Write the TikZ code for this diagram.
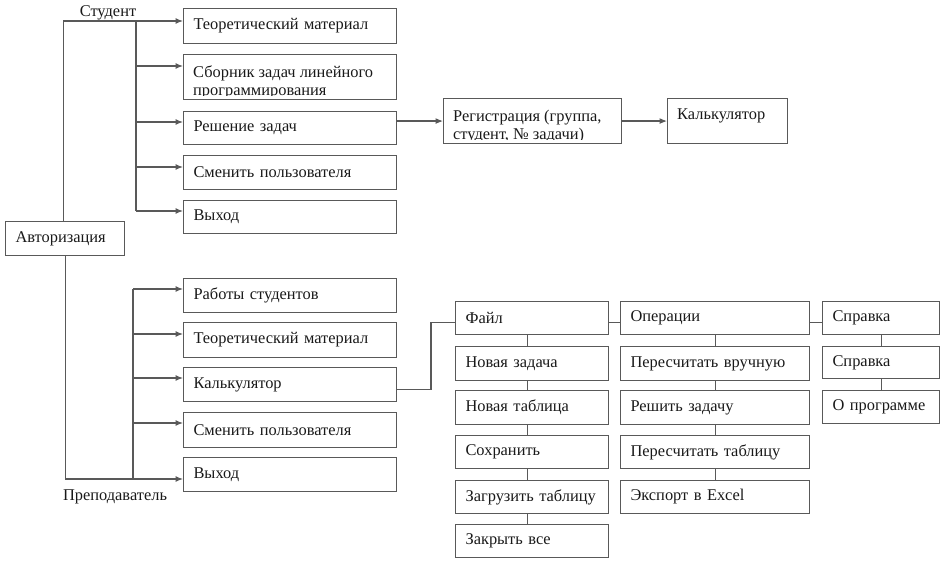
\documentclass[tikz,border=0pt]{standalone}
\usepackage{fontspec}
\setmainfont{Liberation Serif}
\usetikzlibrary{arrows.meta}
\newcommand{\menubox}[6]{%
  \pgfmathsetmacro\bw{#4-#2}\pgfmathsetmacro\bh{#5-#3}\pgfmathsetmacro\tw{#4-#2-20}%
  \node[box, minimum width=\bw pt, minimum height=\bh pt, text width=\tw pt] (#1) at (#2,#3) {#6};}
\begin{document}
\begin{tikzpicture}[x=1pt,y=-1pt,
  box/.style={draw=black!65, line width=1.1pt, rectangle, anchor=north west, inner xsep=10pt, inner ysep=0pt, align=left, font=\fontsize{16.4}{18.5}\selectfont, text=black!90},
  conn/.style={draw=black!65, line width=1.1pt},
  arr/.style={conn, -{Latex[length=7.5pt,width=6pt]}},
  lbl/.style={font=\fontsize{16.4}{18.5}\selectfont, text=black!90, inner sep=0pt}]
\useasboundingbox (0,0) rectangle (945,561);
% student branch
\menubox{S1}{183}{8}{396}{43}{Теоретический материал}
\menubox{S2}{183}{54}{396}{99}{}
\menubox{S3}{183}{111}{396}{144}{Решение задач}
\menubox{S4}{183}{155}{396}{189}{Сменить пользователя}
\menubox{S5}{183}{200}{396}{233}{Выход}
\menubox{A}{5}{221}{124}{255}{Авторизация}
\menubox{R}{443}{98}{621}{143}{}
\menubox{K}{667}{98}{787}{143}{}
\node[lbl, anchor=north west] (Kt) at ([xshift=10pt,yshift=-8pt]K.north west) {\strut Калькулятор};
\begin{scope}
  \clip ([yshift=-1pt]S2.north west) rectangle ([yshift=5pt]S2.south east);
  \node[lbl, anchor=north west, align=left] (S2t) at ([xshift=10pt,yshift=-10pt]S2.north west) {\strut Сборник задач линейного\\\strut программирования};
\end{scope}
\begin{scope}
  \clip ([yshift=-1pt]R.north west) rectangle ([yshift=5pt]R.south east);
  \node[lbl, anchor=north west, align=left] (Rt) at ([xshift=10pt,yshift=-10pt]R.north west) {\strut Регистрация (группа,\\\strut студент, № задачи)};
\end{scope}
% teacher branch
\menubox{T1}{183}{278}{396}{312}{Работы студентов}
\menubox{T2}{183}{322}{396}{357}{Теоретический материал}
\menubox{T3}{183}{367}{396}{401}{Калькулятор}
\menubox{T4}{183}{412}{396}{447}{Сменить пользователя}
\menubox{T5}{183}{457}{396}{491}{Выход}
% menus
\menubox{F0}{455}{301}{608}{334}{Файл}
\menubox{F1}{455}{346}{608}{380}{Новая задача}
\menubox{F2}{455}{390}{608}{424}{Новая таблица}
\menubox{F3}{455}{435}{608}{468}{Сохранить}
\menubox{F4}{455}{480}{608}{513}{Загрузить таблицу}
\menubox{F5}{455}{524}{608}{557}{Закрыть все}
\menubox{O0}{620}{301}{809}{334}{Операции}
\menubox{O1}{620}{346}{809}{380}{Пересчитать вручную}
\menubox{O2}{620}{390}{809}{424}{Решить задачу}
\menubox{O3}{620}{435}{809}{468}{Пересчитать таблицу}
\menubox{O4}{620}{480}{809}{513}{Экспорт в Excel}
\menubox{H0}{822}{301}{939}{334}{Справка}
\menubox{H1}{822}{346}{939}{378}{Справка}
\menubox{H2}{822}{390}{939}{423}{О программе}
% labels
\node[lbl] (stud) at (108,13) {Студент};
\node[lbl] (prep) at (115,497) {Преподаватель};
% student connectors
\coordinate (sx) at (136,0);
\coordinate (s1a) at ([yshift=-13pt]S1.north west);
\coordinate (s2a) at ([yshift=-12pt]S2.north west);
\coordinate (s3a) at ([yshift=-11pt]S3.north west);
\coordinate (s4a) at ([yshift=-12pt]S4.north west);
\coordinate (s5a) at ([yshift=-11pt]S5.north west);
\draw[conn] ([xshift=-2pt]A.north) |- (s1a -| sx);
\draw[arr] (s1a -| sx) -- (s1a);
\draw[conn] (s1a -| sx) -- (s5a -| sx);
\draw[arr] (s2a -| sx) -- (s2a);
\draw[arr] (s3a -| sx) -- (s3a);
\draw[arr] (s4a -| sx) -- (s4a);
\draw[arr] (s5a -| sx) -- (s5a);
\draw[arr] (R.west -| S3.east) -- (R.west);
\draw[arr] (R.east) -- (K.west);
% teacher connectors
\coordinate (tx) at (133,0);
\coordinate (t1a) at ([yshift=-11pt]T1.north west);
\coordinate (t2a) at ([yshift=-12pt]T2.north west);
\coordinate (t3a) at ([yshift=-11pt]T3.north west);
\coordinate (t4a) at ([yshift=-11pt]T4.north west);
\coordinate (t5a) at ([yshift=-22pt]T5.north west);
\draw[arr] (A.south) |- (t5a);
\draw[conn] (t1a -| tx) -- (t5a -| tx);
\draw[arr] (t1a -| tx) -- (t1a);
\draw[arr] (t2a -| tx) -- (t2a);
\draw[arr] (t3a -| tx) -- (t3a);
\draw[arr] (t4a -| tx) -- (t4a);
% calculator to menu
\coordinate (kx) at (431,0);
\coordinate (k1) at ([yshift=-5pt]T3.east);
\coordinate (f0a) at ([yshift=-4.5pt]F0.west);
\draw[conn] (k1) -| (kx |- f0a) -- (f0a);
\draw[conn] ([yshift=-4.5pt]F0.east) -- ([yshift=-4.5pt]O0.west);
\draw[conn] ([yshift=-4.5pt]O0.east) -- ([yshift=-4.5pt]H0.west);
\foreach \a/\b in {F0/F1,F1/F2,F2/F3,F3/F4,F4/F5}
  \draw[conn] ([xshift=-5pt]\a.south) -- ([xshift=-5pt]\b.north);
\foreach \a/\b in {O0/O1,O1/O2,O2/O3,O3/O4,H0/H1,H1/H2}
  \draw[conn] (\a.south) -- (\b.north);
\end{tikzpicture}
\end{document}
